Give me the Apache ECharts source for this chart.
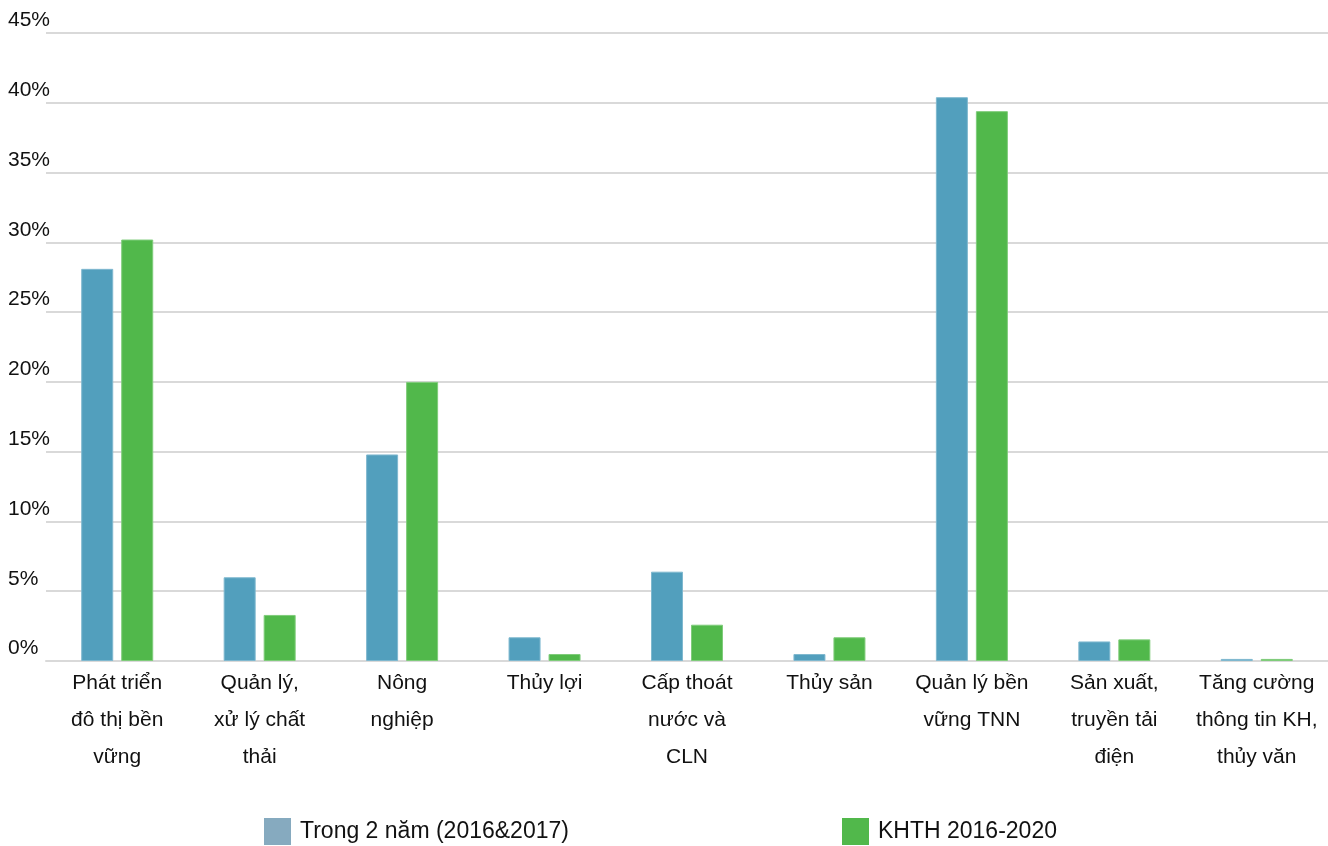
<!DOCTYPE html>
<html>
<head>
<meta charset="utf-8">
<script src="https://cdn.jsdelivr.net/npm/echarts@6/dist/echarts.min.js"></script>
<style>
  html, body { margin: 0; padding: 0; background: #fff; }
  #chart { width: 1328px; height: 846px; }
</style>
</head>
<body>
<div id="chart"></div>
<script>
// Investment share by sector (percent)
const categories = [
  'Phát triển\nđô thị bền\nvững',
  'Quản lý,\nxử lý chất\nthải',
  'Nông\nnghiệp',
  'Thủy lợi',
  'Cấp thoát\nnước và\nCLN',
  'Thủy sản',
  'Quản lý bền\nvững TNN',
  'Sản xuất,\ntruyền tải\nđiện',
  'Tăng cường\nthông tin KH,\nthủy văn'
];
const seriesNames = ['Trong 2 năm (2016&2017)', 'KHTH 2016-2020'];
const twoYears = [28.1, 6.0, 14.8, 1.7, 6.4, 0.5, 40.4, 1.4, 0.15];
const plan2016to2020 = [30.2, 3.3, 20.0, 0.5, 2.6, 1.7, 39.4, 1.55, 0.15];

const FONT = '"Liberation Sans", Arial, Helvetica, sans-serif';

function legendFor(name, color, left) {
  return {
    top: 818,
    left: left,
    padding: 0,
    itemWidth: 27,
    itemHeight: 27,
    icon: 'rect',
    textStyle: { fontSize: 23, color: '#111', fontFamily: FONT, padding: [0, 0, 0, 4] },
    data: [{ name: name, itemStyle: { color: color, borderWidth: 0 } }]
  };
}

const chart = echarts.init(document.getElementById('chart'));
chart.setOption({
  animation: false,
  backgroundColor: '#ffffff',
  textStyle: { fontFamily: FONT },
  grid: { left: 46, right: 0, top: 33, bottom: 185, containLabel: false },
  legend: [
    legendFor(seriesNames[0], '#86aabf', 264),
    legendFor(seriesNames[1], '#51b84b', 842)
  ],
  xAxis: {
    type: 'category',
    data: categories,
    axisLine: { show: true, lineStyle: { color: '#d9d9d9', width: 2 } },
    axisTick: { show: false },
    axisLabel: {
      interval: 0,
      margin: 4,
      fontSize: 21,
      lineHeight: 37,
      color: '#111',
      fontFamily: FONT,
      verticalAlign: 'top'
    }
  },
  yAxis: {
    type: 'value',
    min: 0,
    max: 45,
    interval: 5,
    axisLine: { show: false },
    axisTick: { show: false },
    splitLine: { lineStyle: { color: '#d9d9d9', width: 2 } },
    axisLabel: {
      formatter: '{value}%',
      align: 'left',
      verticalAlign: 'bottom',
      margin: 38,
      padding: [0, 0, 2, 0],
      fontSize: 21,
      color: '#111',
      fontFamily: FONT
    }
  },
  series: [
    {
      name: seriesNames[0],
      type: 'bar',
      data: twoYears,
      barWidth: 32,
      barGap: '25%',
      itemStyle: { color: '#529fbd', borderColor: '#7fb8cf', borderWidth: 1 }
    },
    {
      name: seriesNames[1],
      type: 'bar',
      data: plan2016to2020,
      barWidth: 32,
      itemStyle: { color: '#51b84b', borderColor: '#7fcc7a', borderWidth: 1 }
    }
  ]
});
</script>
</body>
</html>
